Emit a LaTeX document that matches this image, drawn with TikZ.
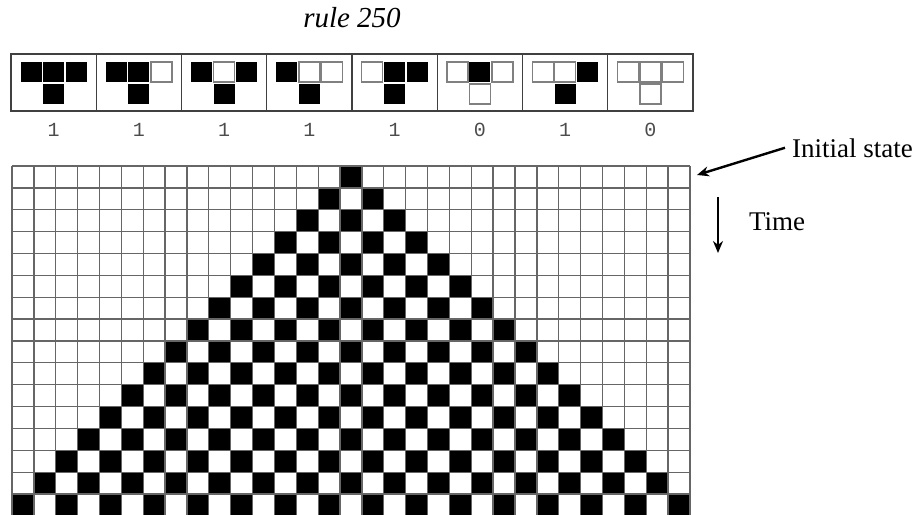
\documentclass[tikz,border=0pt]{standalone}
\usepackage{fontspec}
\setmainfont{Liberation Serif}
\setmonofont{Liberation Mono}
\usepackage{tikz}
\usetikzlibrary{arrows.meta, positioning, calc}

\begin{document}
\begin{tikzpicture}[
  x=0.5pt, y=-0.5pt,
  cellline/.style={draw=black!60, line width=0.65pt},
  rulebox/.style={draw=black!75, line width=0.7pt},
  oncell/.style={fill=black},
  offcell/.style={draw=black!50, line width=0.7pt, fill=white},
  digit/.style={font=\ttfamily\fontsize{10}{12}\selectfont, text=black!70},
  txt/.style={font=\fontsize{13.5}{16}\selectfont},
  arrow/.style={-{Stealth[length=6pt, width=5pt]}, line width=1.2pt},
]
\useasboundingbox (0,0) rectangle (912,515);

% Title
\node[font=\itshape\fontsize{14.5}{17}\selectfont, anchor=base] (title) at (352,27) {rule 250};

% Rule table: left/centre/right -> new state
\foreach \a/\b/\c/\o [count=\k from 0] in {1/1/1/1, 1/1/0/1, 1/0/1/1, 1/0/0/1, 0/1/1/1, 0/1/0/0, 0/0/1/1, 0/0/0/0}{
  \pgfmathsetmacro\bx{11+85.25*\k}
  \draw[rulebox] (\bx,54) rectangle ++(85.25,57);
  \foreach \v [count=\i from 0] in {\a,\b,\c}{
    \ifnum\v=1
      \fill[oncell] (\bx+9.7+22.5*\i,62) rectangle ++(21,20);
    \else
      \draw[offcell] (\bx+9.7+22.5*\i,62) rectangle ++(21,20);
    \fi
  }
  \ifnum\o=1
    \fill[oncell] (\bx+32.2,84) rectangle ++(21,20);
  \else
    \draw[offcell] (\bx+32.2,84) rectangle ++(21,20);
  \fi
  \node[digit] (out\k) at (\bx+42.6,129.5) {\o};
}

% Evolution from one black cell
\foreach \r in {0,...,15}{
  \foreach \c in {0,...,30}{
    \pgfmathtruncatemacro\on{and(abs(\c-15)<=\r, mod(\c+\r,2)==1)}
    \ifnum\on=1
      \fill[oncell] (12+21.87*\c,166+21.87*\r) rectangle ++(21.87,21.87);
    \fi
  }
}
\foreach \c in {0,...,31}
  \draw[cellline] (12+21.87*\c,166) -- ++(0,16*21.87);
\foreach \r in {0,...,16}
  \draw[cellline] (12,166+21.87*\r) -- ++(31*21.87,0);

% Annotations
\coordinate (gridNE) at (697,175);
\node[txt, anchor=base west] (init) at (785,157) {Initial state};
\draw[arrow] (init.west) -- (gridNE);

\coordinate (ttop) at (718,197);
\coordinate (tbot) at (718,253);
\draw[arrow] (ttop) -- (tbot);
\node[txt, anchor=base west] (time) at (742,230) {Time};
\end{tikzpicture}
\end{document}
